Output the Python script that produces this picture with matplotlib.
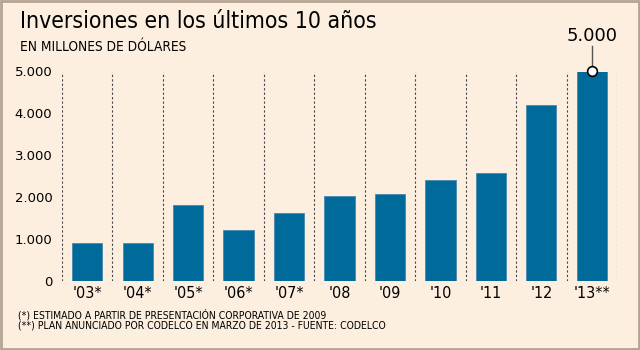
import matplotlib
matplotlib.use('Agg')
import matplotlib.pyplot as plt
from matplotlib.patches import Rectangle

# Data
years = ["'03*", "'04*", "'05*", "'06*", "'07*", "'08", "'09", "'10", "'11", "'12", "'13**"]
investments = [910, 910, 1820, 1210, 1620, 2020, 2070, 2400, 2570, 4210, 5000]
y_ticks = [0, 1000, 2000, 3000, 4000, 5000]
y_tick_labels = ['0', '1.000', '2.000', '3.000', '4.000', '5.000']

bg = '#FCEFDF'
bar_color = '#006A9A'

plt.rcParams['font.family'] = ['DejaVu Sans']

fig = plt.figure(figsize=(6.4, 3.5), dpi=100, facecolor=bg)
ax = fig.add_axes([62 / 640, 1 - 280.7 / 350, (617 - 62) / 640, (280.7 - 71.5) / 350])
ax.set_facecolor(bg)

x = list(range(len(years)))
ax.bar(x, investments, width=0.6, color=bar_color, edgecolor='#4A88AE', linewidth=0.6, zorder=2)

# dashed separators
for i in range(len(years) + 1):
    ax.axvline(i - 0.5, color='#444444', linestyle=(0, (2, 2)), linewidth=0.8, zorder=1)

ax.set_xlim(-0.5, len(years) - 0.5)
ax.set_ylim(0, 5000)
ax.set_xticks(x)
ax.set_xticklabels(years, fontsize=11.5, fontstretch='condensed')
ax.set_yticks(y_ticks)
ax.set_yticklabels(y_tick_labels, fontsize=9.5)
ax.tick_params(length=0, pad=4)
ax.tick_params(axis='y', pad=7)
for s in ax.spines.values():
    s.set_visible(False)

# highlight last value
last = len(years) - 1
ax.plot([last, last], [investments[last], investments[last] + 620], color='#555555', lw=1,
        clip_on=False, zorder=3)
ax.plot(last, investments[last], 'o', ms=7, mfc='white', mec='black', mew=1.2, clip_on=False, zorder=4)
ax.text(last, investments[last] + 640, '5.000', ha='center', va='bottom', fontsize=13)

# titles
fig.text(20 / 640, 1 - 22 / 350, 'Inversiones en los últimos 10 años', fontsize=16.5,
         fontstretch='condensed', ha='left', va='center')
fig.text(20 / 640, 1 - 47 / 350, 'EN MILLONES DE DÓLARES', fontsize=9.8, fontstretch='condensed',
         ha='left', va='center')

# footnotes
fig.text(18 / 640, 1 - 315 / 350, '(*) ESTIMADO A PARTIR DE PRESENTACIÓN CORPORATIVA DE 2009',
         fontsize=7.5, fontstretch='condensed', ha='left', va='center')
fig.text(18 / 640, 1 - 326 / 350, '(**) PLAN ANUNCIADO POR CODELCO EN MARZO DE 2013 - FUENTE: CODELCO',
         fontsize=7.5, fontstretch='condensed', ha='left', va='center')

# border
fig.patches.append(Rectangle((0.002, 0.003), 0.996, 0.994, transform=fig.transFigure,
                             fill=False, edgecolor='#B5A393', linewidth=2))

fig.savefig('out.png', dpi=100, facecolor=bg)
